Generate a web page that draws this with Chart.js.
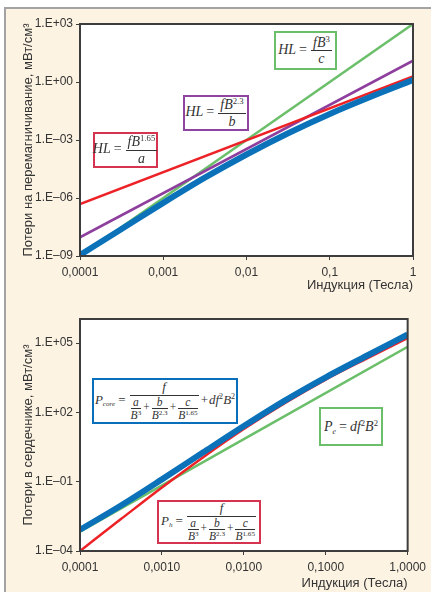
<!DOCTYPE html>
<html>
<head>
<meta charset="utf-8">
<script src="https://cdn.jsdelivr.net/npm/chart.js@4/dist/chart.umd.min.js"></script>
<style>
body { margin: 0; width: 431px; height: 592px; background: #fff; position: relative; overflow: hidden; }
#panel { position: absolute; left: 4px; top: 7px; right: 0; bottom: 0; background: #fcf3e3;
  border-left: 2px solid #a3a3a3; border-top: 2px solid #a3a3a3; }
canvas { position: absolute; left: 0; }
.box { position: absolute; background: #fff; border: 2px solid; box-sizing: border-box;
  display: flex; align-items: center; justify-content: center; white-space: nowrap;
  font-family: "Liberation Serif", "DejaVu Serif", serif; font-style: italic; font-size: 14px; color: #333; }
.op { font-style: normal; margin: 0 3px; }
.op2 { font-style: normal; margin: 0 1px; }
.frac { display: inline-flex; flex-direction: column; align-items: center; vertical-align: middle; line-height: 1.1; margin: 0 1px; }
.frac > span:first-child { border-bottom: 1px solid #333; padding: 0 2px; align-self: stretch; text-align: center; }
.small { font-size: 11.5px; line-height: 1.1; }
sup { font-size: 0.62em; font-style: normal; vertical-align: 0.6em; line-height: 0; }
sub { font-size: 0.55em; vertical-align: -0.35em; line-height: 0; }
</style>
</head>
<body>
<div id="panel"></div>
<canvas id="hlChart" width="431" height="296" style="top:0"></canvas>
<canvas id="coreChart" width="431" height="296" style="top:296px"></canvas>

<!-- формулы, верхний график -->
<div class="box" style="left:274px;top:31px;width:63px;height:39px;border-color:#6cbf6a"><span>
  HL<span class="op">=</span><span class="frac"><span>fB<sup>3</sup></span><span>c</span></span>
</span></div>
<div class="box" style="left:183px;top:95px;width:66px;height:36px;border-color:#8e44a0"><span>
  HL<span class="op">=</span><span class="frac"><span>fB<sup>2.3</sup></span><span>b</span></span>
</span></div>
<div class="box" style="left:93px;top:132px;width:65px;height:36px;border-color:#d5334f"><span>
  HL<span class="op">=</span><span class="frac"><span>fB<sup>1.65</sup></span><span>a</span></span>
</span></div>

<!-- формулы, нижний график -->
<div class="box" style="left:92px;top:378px;width:146px;height:46px;border-color:#0a6fbb;font-size:13px"><span>
  P<sub>core</sub><span class="op">=</span><span class="frac"><span>f</span><span class="small"><span class="frac"><span>a</span><span>B<sup>3</sup></span></span><span class="op2">+</span><span class="frac"><span>b</span><span>B<sup>2.3</sup></span></span><span class="op2">+</span><span class="frac"><span>c</span><span>B<sup>1.65</sup></span></span></span></span><span class="op2">+</span>df<sup>2</sup>B<sup>2</sup>
</span></div>
<div class="box" style="left:319px;top:407px;width:64px;height:39px;border-color:#6cbf6a;font-size:14px"><span>
  P<sub>e</sub><span class="op">=</span>df<sup>2</sup>B<sup>2</sup>
</span></div>
<div class="box" style="left:157px;top:500px;width:104px;height:44px;border-color:#d5334f;font-size:13px"><span>
  P<sub>h</sub><span class="op">=</span><span class="frac"><span>f</span><span class="small"><span class="frac"><span>a</span><span>B<sup>3</sup></span></span><span class="op2">+</span><span class="frac"><span>b</span><span>B<sup>2.3</sup></span></span><span class="op2">+</span><span class="frac"><span>c</span><span>B<sup>1.65</sup></span></span></span></span>
</span></div>

<script>
// индукция, Тл
var induction = [0.0001, 0.000316, 0.001, 0.00316, 0.01, 0.0316, 0.1, 0.316, 1];
var lineEnds = [0.0001, 1];

// верхний график: потери на перемагничивание, мВт/см3
var hlTotal = [1.12e-9, 2.5e-8, 5.6e-7, 1.12e-5, 1.78e-4, 2.24e-3, 2.24e-2, 0.178, 1.26];
var hlB165 = [4.9e-7, 1.95];
var hlB23 = [9.3e-9, 12.6];
var hlB3 = [1e-9, 1000];

// нижний график: потери в сердечнике, мВт/см3
var pCore = [8.3e-4, 9.3e-3, 0.126, 1.82, 25.7, 324, 3310, 28200, 234000];
var pHyst = [1e-4, 2.4e-3, 5.6e-2, 1.12, 19, 250, 2630, 21400, 166000];
var pEddy = [6.9e-4, 69000];

// подписи осей
var xTickValues = [0.0001, 0.001, 0.01, 0.1, 1];
var xLabelsTop = ["0,0001", "0,001", "0,01", "0,1", "1"];
var xLabelsBottom = ["0,0001", "0,0010", "0,0100", "0,1000", "1,0000"];
var yTicksTop = [1e-9, 1e-6, 1e-3, 1, 1e3];
var yLabelsTop = ["1.E\u201309", "1.E\u201306", "1.E\u201303", "1.E+00", "1.E+03"];
var yTicksBottom = [1e-4, 1e-1, 1e2, 1e5];
var yLabelsBottom = ["1.E\u201304", "1.E\u201301", "1.E+02", "1.E+05"];

var FONT = '"Liberation Sans", Arial, sans-serif';
var GREEN = "#6cbf6a", PURPLE = "#8e3f9e", RED = "#ec2227", BLUE = "#0b72ba";

function xy(xs, ys) {
    return ys.map(function (v, i) { return { x: xs[i], y: v }; });
}

function line(data, color, width) {
    return {
        data: data,
        borderColor: color,
        borderWidth: width,
        pointRadius: 0,
        fill: false,
        cubicInterpolationMode: 'monotone'
    };
}

var framePlugin = {
    id: 'frame',
    beforeDraw: function (chart) {
        var a = chart.chartArea, c = chart.ctx;
        c.save();
        c.fillStyle = '#fff';
        c.fillRect(a.left, a.top, a.right - a.left, a.bottom - a.top);
        c.restore();
    },
    afterDraw: function (chart) {
        var a = chart.chartArea, c = chart.ctx;
        c.save();
        c.strokeStyle = '#3d3d3d';
        c.lineWidth = 2;
        c.strokeRect(a.left, a.top, a.right - a.left, a.bottom - a.top);
        c.restore();
    }
};

function scales(yMin, yMax, yTicks, yLabels, xLabels, yTitle, xHeight, titlePad) {
    return {
        x: {
            type: 'logarithmic',
            min: 0.0001,
            max: 1,
            afterBuildTicks: function (s) { s.ticks = xTickValues.map(function (v) { return { value: v }; }); },
            afterFit: function (s) { s.height = xHeight; },
            ticks: {
                autoSkip: false, maxRotation: 0, padding: 5, color: '#333',
                font: { family: FONT, size: 12 },
                callback: function (v, i) { return xLabels[i]; }
            },
            grid: { drawOnChartArea: false, tickLength: 4, color: '#3d3d3d', lineWidth: 1 },
            border: { display: false },
            title: {
                display: true, text: 'Индукция (Тесла)', align: 'end', color: '#333',
                font: { family: FONT, size: 13 }, padding: { top: 0, bottom: titlePad }
            }
        },
        y: {
            type: 'logarithmic',
            min: yMin,
            max: yMax,
            afterBuildTicks: function (s) { s.ticks = yTicks.map(function (v) { return { value: v }; }); },
            afterFit: function (s) { s.width = 80; },
            ticks: {
                autoSkip: false, padding: 3, color: '#333',
                font: { family: FONT, size: 12 },
                callback: function (v, i) { return yLabels[i]; }
            },
            grid: { drawOnChartArea: false, tickLength: 4, color: '#3d3d3d', lineWidth: 1 },
            border: { display: false },
            title: {
                display: true, text: yTitle, color: '#333',
                font: { family: FONT, size: 13 }, padding: { top: 21, bottom: 0 }
            }
        }
    };
}

function options(padTop, sc) {
    return {
        responsive: false,
        animation: false,
        layout: { padding: { top: padTop, right: 18, bottom: 0, left: 0 } },
        plugins: { legend: { display: false }, tooltip: { enabled: false } },
        scales: sc
    };
}

new Chart(document.getElementById('hlChart').getContext('2d'), {
    type: 'line',
    data: {
        datasets: [
            line(xy(induction, hlTotal), BLUE, 6),
            line(xy(lineEnds, hlB165), RED, 2.5),
            line(xy(lineEnds, hlB23), PURPLE, 2.5),
            line(xy(lineEnds, hlB3), GREEN, 2.5)
        ]
    },
    options: options(24, scales(1e-9, 1e3, yTicksTop, yLabelsTop, xLabelsTop,
        'Потери на перемагничивание, мВт/см³', 40, 3)),
    plugins: [framePlugin]
});

new Chart(document.getElementById('coreChart').getContext('2d'), {
    type: 'line',
    data: {
        datasets: [
            line(xy(induction, pCore), BLUE, 6),
            line(xy(induction, pHyst), RED, 2.5),
            line(xy(lineEnds, pEddy), GREEN, 2.5)
        ]
    },
    options: options(23, scales(1e-4, 1.1e6, yTicksBottom, yLabelsBottom, xLabelsBottom,
        'Потери в сердечнике, мВт/см³', 41, 1)),
    plugins: [framePlugin]
});
</script>
</body>
</html>
